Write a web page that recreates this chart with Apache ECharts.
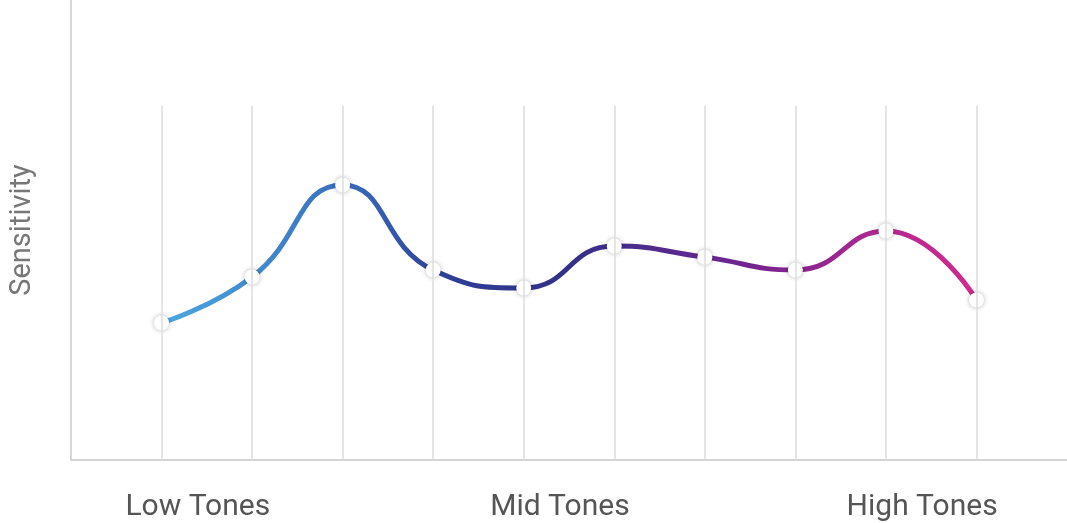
<!DOCTYPE html>
<html><head><meta charset="utf-8">
<script src="https://cdn.jsdelivr.net/npm/echarts@6/dist/echarts.min.js"></script>
<style>html,body{margin:0;padding:0;background:#fff}#c{width:1067px;height:523px}</style>
</head><body><div id="c"></div>
<script>
const xPositions=[1,2,3,4,5,6,7,8,9,10];
const sensitivity=[29.8,39.8,59.8,41.3,37.4,46.5,44.1,41.3,49.8,34.8];
const toneLabels=['Low Tones','Mid Tones','High Tones'];
const toneLabelX=[1.4,5.4,9.4];
const gridTop=77;
const chart=echarts.init(document.getElementById('c'));
const data=xPositions.map((x,i)=>[x,sensitivity[i]]);
chart.setOption({
  animation:false,
  grid:{left:66,right:0,top:0,bottom:63},
  xAxis:{type:'value',min:0,max:11,axisLine:{lineStyle:{color:'#c8c8c8',width:1.5}},axisTick:{show:false},axisLabel:{show:false},splitLine:{show:false}},
  yAxis:{type:'value',min:0,max:100,axisLine:{show:true,lineStyle:{color:'#c8c8c8',width:1.5}},axisTick:{show:false},axisLabel:{show:false},splitLine:{show:false},
    name:'Sensitivity',nameLocation:'middle',nameGap:34,nameTextStyle:{fontFamily:'Roboto',fontSize:29,color:'#777'}},
  series:[{
    type:'line',smooth:0.5,data:data,symbol:'circle',symbolSize:15,
    itemStyle:{color:'#fff',borderWidth:0,shadowColor:'rgba(0,0,0,0.3)',shadowBlur:5},
    lineStyle:{width:5,color:{type:'linear',x:0,y:0,x2:1,y2:0,colorStops:[
      {offset:0,color:'#4aa9e2'},{offset:0.22,color:'#3a6fbf'},{offset:0.35,color:'#2f3f96'},{offset:0.5,color:'#33308a'},
      {offset:0.72,color:'#73248f'},{offset:0.88,color:'#b0288f'},{offset:1,color:'#d4298f'}]}},
    markLine:{silent:true,symbol:'none',label:{show:false},lineStyle:{color:'#dcdcdc',width:1.5,type:'solid'},
      data:xPositions.map(x=>[{coord:[x,0]},{coord:[x,gridTop]}])},
    z:3
  }]
});
const gs=toneLabels.map((t,i)=>{const p=chart.convertToPixel({xAxisIndex:0,yAxisIndex:0},[toneLabelX[i],0]);
  return {type:'text',x:p[0],y:507,style:{text:t,fontFamily:'Roboto',fontSize:30,fill:'#555',align:'center',verticalAlign:'middle'}};});
chart.setOption({graphic:gs});
</script></body></html>
